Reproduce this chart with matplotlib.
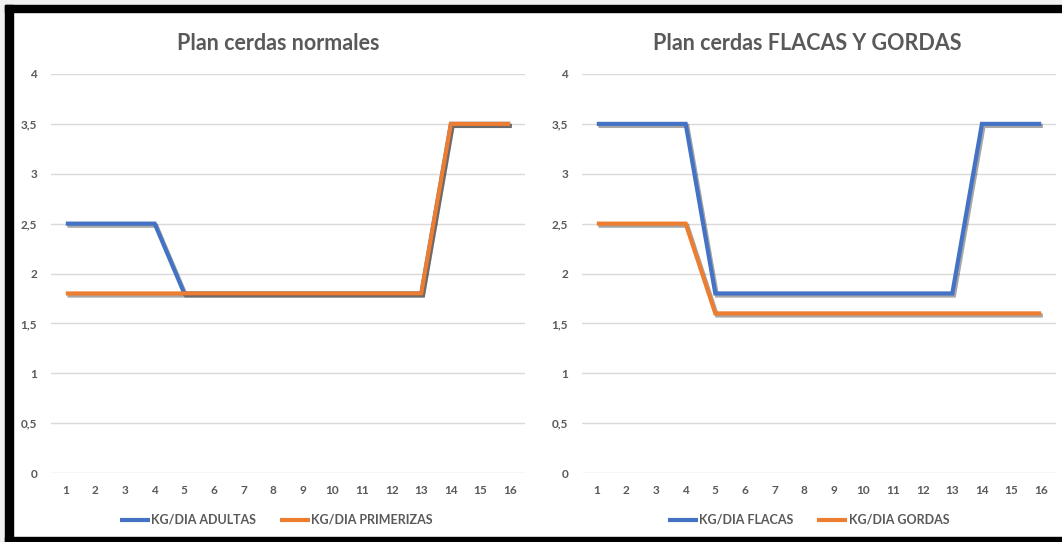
import matplotlib
matplotlib.use("Agg")
import matplotlib.pyplot as plt
import matplotlib.patheffects as pe
from matplotlib.patches import Rectangle

# Feeding plan data (kg per day, by day of cycle)
days = list(range(1, 17))
adultas = [2.5, 2.5, 2.5, 2.5, 1.8, 1.8, 1.8, 1.8, 1.8, 1.8, 1.8, 1.8, 1.8, 3.5, 3.5, 3.5]
primerizas = [1.8] * 13 + [3.5, 3.5, 3.5]
flacas = [3.5, 3.5, 3.5, 3.5, 1.8, 1.8, 1.8, 1.8, 1.8, 1.8, 1.8, 1.8, 1.8, 3.5, 3.5, 3.5]
gordas = [2.5, 2.5, 2.5, 2.5] + [1.6] * 12
y_ticks = [0, 0.5, 1, 1.5, 2, 2.5, 3, 3.5, 4]
y_labels = ["0", "0,5", "1", "1,5", "2", "2,5", "3", "3,5", "4"]

BLUE = "#4472C4"
ORANGE = "#ED7D31"
TXT = "#595959"
GRID = "#D9D9D9"
FONT = ["Lato", "DejaVu Sans"]

W, H = 1062, 542
fig = plt.figure(figsize=(W / 100, H / 100), dpi=100)
fig.patch.set_facecolor("white")


def px(x0, y0, x1, y1):
    """Pixel box (top-left origin) to figure fraction rect."""
    return [x0 / W, 1 - y1 / H, (x1 - x0) / W, (y1 - y0) / H]


# outer gray margin and black frame
for r in [px(0, 0, W, 5), px(0, 0, 5, H)]:
    fig.add_artist(Rectangle((r[0], r[1]), r[2], r[3], transform=fig.transFigure,
                             color="#F0F0F0", zorder=0))
for r in [px(5, 5, W, 12), px(5, 5, 13, H), px(5, 537, W, H)]:
    fig.add_artist(Rectangle((r[0], r[1]), r[2], r[3], transform=fig.transFigure,
                             color="black", zorder=5))

shadow = [pe.SimpleLineShadow(offset=(1.2, -1.5), shadow_color="black", alpha=0.35),
          pe.Normal()]


def panel(rect, title, title_x, s1, s2, n1, n2, leg_x):
    ax = fig.add_axes(px(*rect))
    ax.set_xlim(0.5, 16.5)
    ax.set_ylim(0, 4)
    for s in ax.spines.values():
        s.set_visible(False)
    ax.set_yticks(y_ticks)
    ax.set_yticklabels(y_labels)
    ax.set_xticks(days)
    ax.set_xticklabels([str(d) for d in days])
    ax.tick_params(length=0, labelsize=8.5, labelcolor=TXT, pad=10)
    ax.tick_params(axis="x", pad=9)
    for lab in ax.get_xticklabels() + ax.get_yticklabels():
        lab.set_fontfamily(FONT)
        lab.set_fontweight("bold")
    ax.grid(axis="y", color=GRID, lw=1)
    ax.set_axisbelow(True)
    l1, = ax.plot(days, s1, color=BLUE, lw=3, solid_joinstyle="miter",
                  solid_capstyle="butt", path_effects=shadow, label=n1, clip_on=False)
    l2, = ax.plot(days, s2, color=ORANGE, lw=3, solid_joinstyle="miter",
                  solid_capstyle="butt", path_effects=shadow, label=n2, clip_on=False)
    fig.text(title_x / W, 1 - 43 / H, title, ha="center", va="center",
             fontsize=15.5, fontweight="bold", color=TXT, family=FONT)
    leg = fig.legend(handles=[l1, l2], loc="center left",
                     bbox_to_anchor=(leg_x / W, 1 - 520 / H), ncol=2, frameon=False,
                     prop={"family": FONT, "size": 9, "weight": "bold"},
                     handlelength=2.4, handletextpad=0.1, columnspacing=1.9,
                     borderpad=0, borderaxespad=0)
    for t in leg.get_texts():
        t.set_color(TXT)
    for h in leg.legend_handles:
        h.set_path_effects([])
    return ax


panel((51, 74, 525, 473), "Plan cerdas normales", 278, adultas, primerizas,
      "KG/DIA ADULTAS", "KG/DIA PRIMERIZAS", 120)
panel((582, 74, 1056, 473), "Plan cerdas FLACAS Y GORDAS", 807, flacas, gordas,
      "KG/DIA FLACAS", "KG/DIA GORDAS", 668)

fig.savefig("out.png", dpi=100, facecolor=fig.get_facecolor())
